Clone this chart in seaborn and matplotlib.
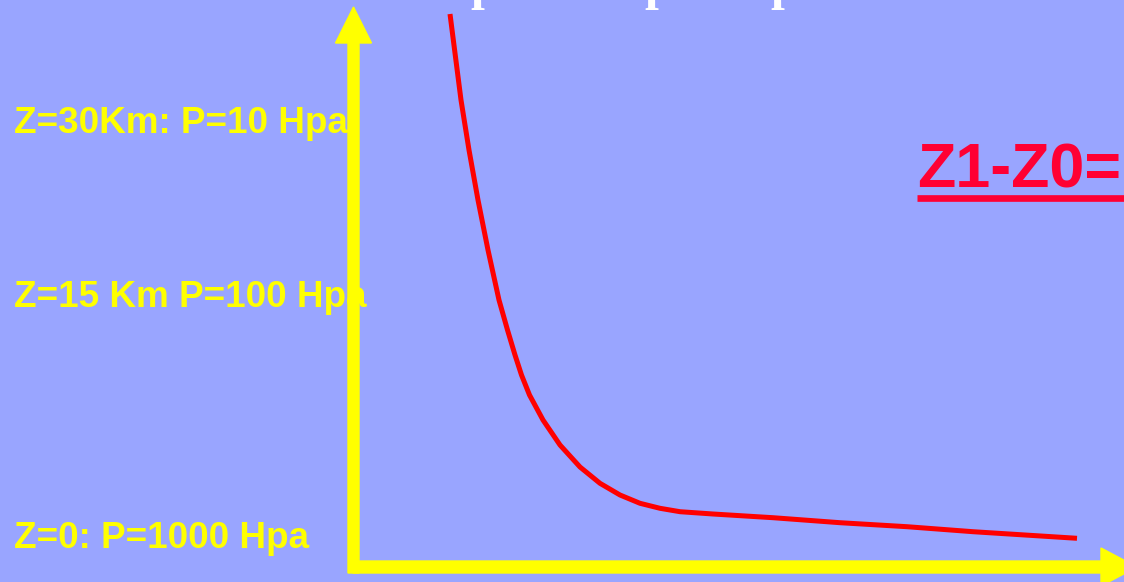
import numpy as np
import pandas as pd
import matplotlib
matplotlib.use("Agg")
import matplotlib.pyplot as plt
import seaborn as sns

# ==================== Données ====================
# courbe schématique : x = distance depuis l'axe vertical, y = hauteur au-dessus de l'axe horizontal
courbe_x = [97, 108, 116, 125, 135, 146, 154.5, 162, 168.5, 176.5, 190, 207, 227,
            247, 267, 287, 307, 327, 360, 420, 487, 554, 620, 724]
courbe_y = [553, 467, 417, 367, 317, 267, 237, 212, 192, 172, 147, 122, 100,
            83.7, 72, 63.7, 58.7, 55.3, 53, 49.3, 44.3, 40.3, 35.3, 28.7]

etiquettes = ["Z=30Km: P=10 Hpa", "Z=15 Km P=100 Hpa", "Z=0: P=1000 Hpa"]
etiquettes_y = [434, 260, 19]
titre_rouge = "Z1-Z0="

fond = "#99a5ff"
jaune = "#ffff00"
rouge = "#ff0000"
rouge_titre = "#ff0033"

# ==================== Figure ====================
sns.set_theme(style="white")
plt.rcParams["font.family"] = ["Liberation Sans", "DejaVu Sans"]

fig = plt.figure(figsize=(11.24, 5.82), dpi=100, facecolor=fond)
ax = fig.add_axes([0, 0, 1, 1])
ax.set_facecolor(fond)
ax.set_xlim(-353, 771)
ax.set_ylim(-15, 567)
ax.axis("off")

df = pd.DataFrame({"x": courbe_x, "y": courbe_y})
sns.lineplot(data=df, x="x", y="y", sort=False, color=rouge, linewidth=3.6,
             solid_capstyle="butt", solid_joinstyle="round", ax=ax, zorder=3)

# textes jaunes à gauche (sous l'axe vertical)
for txt, yy in zip(etiquettes, etiquettes_y):
    ax.text(-339, yy, txt, color=jaune, fontsize=26.6, fontweight="bold",
            ha="left", va="baseline", zorder=1)

# axes jaunes avec flèches
ax.arrow(0.5, -6, 0, 566, width=11, head_width=36, head_length=36,
         length_includes_head=True, color=jaune, zorder=4)
ax.arrow(0, 0, 784, 0, width=12, head_width=38, head_length=36,
         length_includes_head=True, color=jaune, zorder=4)

# titre rouge souligné
ax.text(564, 380, titre_rouge, color=rouge_titre, fontsize=45.2, fontweight="bold",
        ha="left", va="baseline", zorder=2)
ax.plot([564, 800], [369.5, 369.5], color=rouge_titre, linewidth=4.8,
        solid_capstyle="butt", zorder=2)

# restes de texte blanc coupés en haut (comme sur l'original)
for xx in [117, 291, 417]:
    ax.text(xx, 568, "p", color="white", fontsize=36, fontweight="bold",
            family=["Liberation Serif", "DejaVu Serif"], ha="left", va="baseline",
            zorder=2, clip_on=False)

fig.savefig("out.png", dpi=100, facecolor=fond)
